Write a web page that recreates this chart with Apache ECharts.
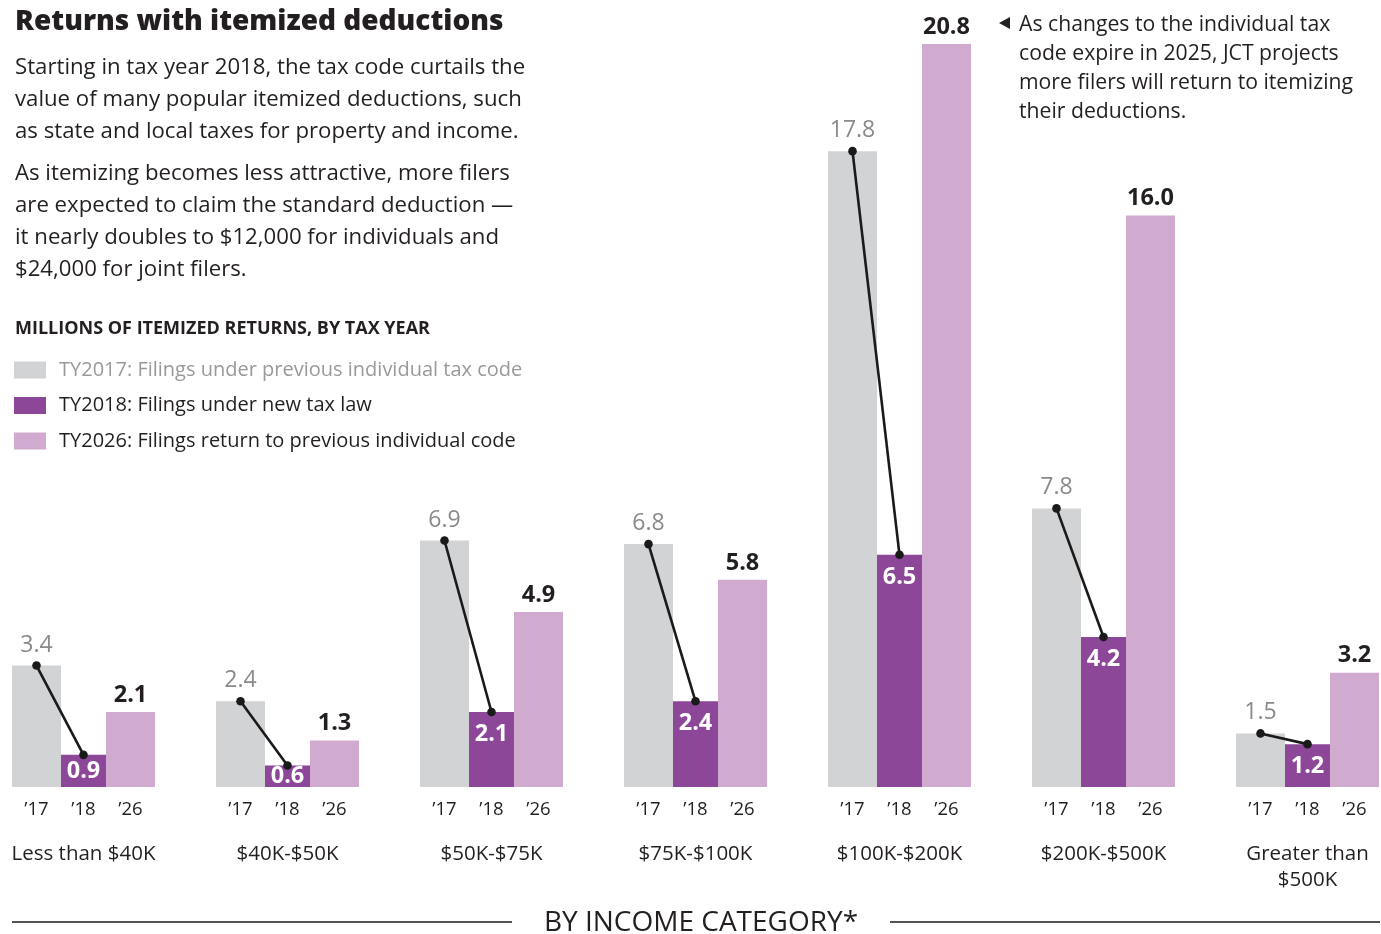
<!DOCTYPE html>
<html>
<head>
<meta charset="utf-8">
<script src="https://cdn.jsdelivr.net/npm/echarts@6/dist/echarts.min.js"></script>
<style>
html,body{margin:0;padding:0;background:#fff;}
#chart{width:1381px;height:934px;}
</style>
</head>
<body>
<div id="chart"></div>
<script>
// ---- data ----
const categories = ['Less than $40K', '$40K-$50K', '$50K-$75K', '$75K-$100K', '$100K-$200K', '$200K-$500K', 'Greater than\n$500K'];
const yearLabels = ['\u201917', '\u201918', '\u201926'];
const seriesNames = ['TY2017: Filings under previous individual tax code', 'TY2018: Filings under new tax law', 'TY2026: Filings return to previous individual code'];
const ty2017 = [3.4, 2.4, 6.9, 6.8, 17.8, 7.8, 1.5];
const ty2018 = [0.9, 0.6, 2.1, 2.4, 6.5, 4.2, 1.2];
const ty2026 = [2.1, 1.3, 4.9, 5.8, 20.8, 16.0, 3.2];

// ---- styles ----
const FONT = '"Open Sans", Lato, sans-serif';
const C17 = '#d1d3d4', C18 = '#8c4799', C26 = '#d1aad0';
const DARK = '#231f20', GREY = '#8a8a8a';
const BW = [49, 45, 49];
const TOTAL = BW[0] + BW[1] + BW[2];
const OFF17 = -TOTAL / 2 + BW[0] / 2;
const OFF18 = -TOTAL / 2 + BW[0] + BW[1] / 2;

const chart = echarts.init(document.getElementById('chart'));

const fmt = v => v.toFixed(1);

const option = {
  backgroundColor: '#fff',
  animation: false,
  textStyle: { fontFamily: FONT },
  grid: { left: 83.5, right: 72.5, top: 44, bottom: 147 },
  legend: {
    orient: 'vertical',
    left: 14,
    top: 360,
    padding: 0,
    itemWidth: 32,
    itemHeight: 17,
    itemGap: 15.5,
    icon: 'rect',
    selectedMode: false,
    textStyle: { fontFamily: FONT, fontSize: 20, color: DARK, padding: [0, 0, 0, 8] },
    data: [
      { name: seriesNames[0], textStyle: { color: '#999999' } },
      { name: seriesNames[1] },
      { name: seriesNames[2] }
    ]
  },
  xAxis: {
    type: 'category',
    data: categories,
    boundaryGap: false,
    axisLine: { show: false },
    axisTick: { show: false },
    axisLabel: {
      margin: 12,
      interval: 0,
      formatter: function (name) {
        const yrs = yearLabels.map(y => '{y|' + y + '}').join('');
        const names = name.split('\n').map(l => '{g|' + l + '}').join('\n');
        return yrs + '\n{s| }\n' + names;
      },
      rich: {
        y: { width: 47, align: 'center', fontSize: 18.5, lineHeight: 22, color: DARK, fontFamily: FONT },
        s: { fontSize: 10, lineHeight: 20, align: 'center' },
        g: { fontSize: 20.5, lineHeight: 26, align: 'center', color: DARK, fontFamily: FONT }
      }
    }
  },
  yAxis: {
    type: 'value',
    min: 0,
    max: function (v) { return v.max; },
    show: false,
    splitLine: { show: false }
  },
  series: [
    {
      name: seriesNames[0],
      type: 'bar',
      data: ty2017,
      barWidth: BW[0],
      barGap: '0%',
      itemStyle: { color: C17 },
      label: { show: true, position: 'top', distance: 9, formatter: p => fmt(p.value), fontSize: 23, color: GREY, fontFamily: FONT }
    },
    {
      name: seriesNames[1],
      type: 'bar',
      data: ty2018.map(v => (v < 1 ? { value: v, label: { position: 'inside' } } : v)),
      barWidth: BW[1],
      barGap: '0%',
      itemStyle: { color: C18 },
      label: { show: true, position: 'insideTop', distance: 10.5, formatter: p => fmt(p.value), fontSize: 23.5, fontWeight: 'bold', color: '#fff', fontFamily: FONT }
    },
    {
      name: seriesNames[2],
      type: 'bar',
      data: ty2026,
      barWidth: BW[2],
      barGap: '0%',
      itemStyle: { color: C26 },
      label: { show: true, position: 'top', distance: 5, formatter: p => fmt(p.value), fontSize: 23.5, fontWeight: 'bold', color: DARK, fontFamily: FONT }
    },
    {
      name: 'change',
      type: 'custom',
      z: 10,
      data: categories.map((c, i) => [i, ty2017[i], ty2018[i]]),
      encode: { x: 0, y: [1, 2] },
      renderItem: function (params, api) {
        const i = api.value(0);
        const a = api.coord([i, api.value(1)]);
        const b = api.coord([i, api.value(2)]);
        const x1 = a[0] + OFF17, y1 = a[1];
        const x2 = b[0] + OFF18, y2 = b[1];
        return {
          type: 'group',
          children: [
            { type: 'line', shape: { x1: x1, y1: y1, x2: x2, y2: y2 }, style: { stroke: '#1a1a1a', lineWidth: 2.6 } },
            { type: 'circle', shape: { cx: x1, cy: y1, r: 4.3 }, style: { fill: '#1a1a1a' } },
            { type: 'circle', shape: { cx: x2, cy: y2, r: 4.3 }, style: { fill: '#1a1a1a' } }
          ]
        };
      }
    }
  ],
  graphic: [
    { type: 'text', left: 15, top: 8, style: { text: 'Returns with itemized deductions', font: '800 28px ' + FONT, fill: DARK } },
    { type: 'text', left: 15, top: 52, style: { text: 'Starting in tax year 2018, the tax code curtails the\nvalue of many popular itemized deductions, such\nas state and local taxes for property and income.', fontSize: 22.2, lineHeight: 32, fontFamily: FONT, fill: DARK } },
    { type: 'text', left: 15, top: 158, style: { text: 'As itemizing becomes less attractive, more filers\nare expected to claim the standard deduction \u2014\nit nearly doubles to $12,000 for individuals and\n$24,000 for joint filers.', fontSize: 22.2, lineHeight: 32, fontFamily: FONT, fill: DARK } },
    { type: 'text', left: 15, top: 320, style: { text: 'MILLIONS OF ITEMIZED RETURNS, BY TAX YEAR', font: 'bold 18px ' + FONT, fill: DARK } },
    { type: 'polygon', shape: { points: [[1010, 17], [1010, 29], [999, 23]] }, style: { fill: DARK } },
    { type: 'text', left: 1019, top: 10.5, style: { text: 'As changes to the individual tax\ncode expire in 2025, JCT projects\nmore filers will return to itemizing\ntheir deductions.', fontSize: 21.2, lineHeight: 29, fontFamily: FONT, fill: DARK } },
    { type: 'text', x: 701, y: 923, style: { text: 'BY INCOME CATEGORY*', fontSize: 28, fontFamily: FONT, fill: DARK, align: 'center', verticalAlign: 'middle' } },
    { type: 'line', shape: { x1: 12, y1: 922, x2: 512, y2: 922 }, style: { stroke: '#555', lineWidth: 2 } },
    { type: 'line', shape: { x1: 890, y1: 922, x2: 1380, y2: 922 }, style: { stroke: '#555', lineWidth: 2 } }
  ]
};

chart.setOption(option);
</script>
</body>
</html>
